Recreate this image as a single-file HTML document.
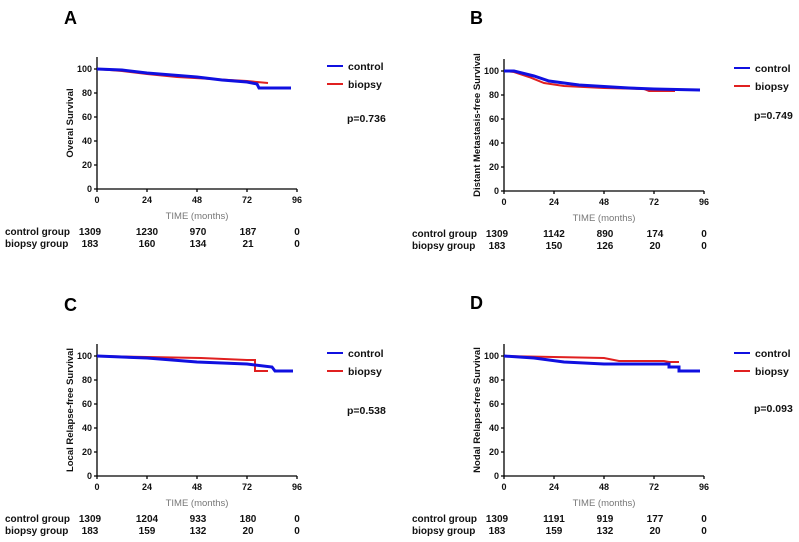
<!DOCTYPE html>
<html><head><meta charset="utf-8"><style>
body{margin:0;background:#fff}
svg{display:block;font-family:"Liberation Sans",Arial,sans-serif;font-weight:bold}
.t{font-size:9px;fill:#111}
.r{font-size:10px;fill:#111}
.lg{font-size:10.5px;fill:#111}
.ti{font-size:9.5px;fill:#777;font-weight:normal}
.yl{font-size:9.5px;fill:#111}
.L{font-size:18px;fill:#000}
.ax{stroke:#000;stroke-width:1.3;fill:none}
.c{stroke:#1010e0;stroke-width:3;fill:none}
.b{stroke:#e02020;stroke-width:2;fill:none}
</style></head><body>
<svg width="799" height="542" viewBox="0 0 799 542">
<defs>
<g id="axes">
<path class="ax" d="M0,-132V0H200M0,0V3M50,0V3M100,0V3M150,0V3M200,0V3M-3,0H0M-3,-24H0M-3,-48H0M-3,-72H0M-3,-96H0M-3,-120H0"/>
<text class="t" x="0" y="14" text-anchor="middle">0</text>
<text class="t" x="50" y="14" text-anchor="middle">24</text>
<text class="t" x="100" y="14" text-anchor="middle">48</text>
<text class="t" x="150" y="14" text-anchor="middle">72</text>
<text class="t" x="200" y="14" text-anchor="middle">96</text>
<text class="t" x="-5" y="3" text-anchor="end">0</text>
<text class="t" x="-5" y="-21" text-anchor="end">20</text>
<text class="t" x="-5" y="-45" text-anchor="end">40</text>
<text class="t" x="-5" y="-69" text-anchor="end">60</text>
<text class="t" x="-5" y="-93" text-anchor="end">80</text>
<text class="t" x="-5" y="-117" text-anchor="end">100</text>
<text class="ti" x="100" y="30" text-anchor="middle">TIME (months)</text>
<text class="r" x="-92" y="46">control group</text>
<text class="r" x="-92" y="58">biopsy group</text>
<line x1="230" y1="-123" x2="246" y2="-123" stroke="#1010e0" stroke-width="2"/>
<line x1="230" y1="-105" x2="246" y2="-105" stroke="#e02020" stroke-width="2"/>
<text class="lg" x="251" y="-119">control</text>
<text class="lg" x="251" y="-101">biopsy</text>
</g>
</defs>

<!-- A -->
<g transform="translate(97,189)">
<use href="#axes"/>
<text class="L" x="-33" y="-165">A</text>
<text class="yl" transform="translate(-24,-66) rotate(-90)" text-anchor="middle">Overal Survival</text>
<text class="lg" x="250" y="-67">p=0.736</text>
<g class="r" text-anchor="middle"><text x="-7" y="46">1309</text><text x="50" y="46">1230</text><text x="101" y="46">970</text><text x="151" y="46">187</text><text x="200" y="46">0</text>
<text x="-7" y="58">183</text><text x="50" y="58">160</text><text x="101" y="58">134</text><text x="151" y="58">21</text><text x="200" y="58">0</text></g>
<polyline class="b" points="0,-120 25,-118 50,-115 80,-112 115,-110 150,-108 160,-107 171,-106"/>
<polyline class="c" points="0,-120 25,-119 50,-116 100,-112 125,-109 150,-107 160,-105 162,-101 194,-101"/>
</g>

<!-- B -->
<g transform="translate(504,191)">
<use href="#axes"/>
<text class="L" x="-34" y="-167">B</text>
<text class="yl" transform="translate(-24,-66) rotate(-90)" text-anchor="middle">Distant Metastasis-free Survival</text>
<text class="lg" x="250" y="-72">p=0.749</text>
<g class="r" text-anchor="middle"><text x="-7" y="46">1309</text><text x="50" y="46">1142</text><text x="101" y="46">890</text><text x="151" y="46">174</text><text x="200" y="46">0</text>
<text x="-7" y="58">183</text><text x="50" y="58">150</text><text x="101" y="58">126</text><text x="151" y="58">20</text><text x="200" y="58">0</text></g>
<polyline class="b" points="0,-120 10,-119 25,-114 40,-108 60,-105 100,-103 140,-102 145,-100 171,-100"/>
<polyline class="c" points="0,-120 10,-120 30,-115 45,-110 75,-106 125,-103 150,-102 196,-101"/>
</g>

<!-- C -->
<g transform="translate(97,476)">
<use href="#axes"/>
<text class="L" x="-33" y="-165">C</text>
<text class="yl" transform="translate(-24,-66) rotate(-90)" text-anchor="middle">Local Relapse-free Survival</text>
<text class="lg" x="250" y="-62">p=0.538</text>
<g class="r" text-anchor="middle"><text x="-7" y="46">1309</text><text x="50" y="46">1204</text><text x="101" y="46">933</text><text x="151" y="46">180</text><text x="200" y="46">0</text>
<text x="-7" y="58">183</text><text x="50" y="58">159</text><text x="101" y="58">132</text><text x="151" y="58">20</text><text x="200" y="58">0</text></g>
<polyline class="b" points="0,-120 50,-119 104,-118 150,-116 158,-116 158,-105 171,-105"/>
<polyline class="c" points="0,-120 50,-118 100,-114 150,-112 175,-109 178,-105 196,-105"/>
</g>

<!-- D -->
<g transform="translate(504,476)">
<use href="#axes"/>
<text class="L" x="-34" y="-167">D</text>
<text class="yl" transform="translate(-24,-66) rotate(-90)" text-anchor="middle">Nodal Relapse-free Survival</text>
<text class="lg" x="250" y="-64">p=0.093</text>
<g class="r" text-anchor="middle"><text x="-7" y="46">1309</text><text x="50" y="46">1191</text><text x="101" y="46">919</text><text x="151" y="46">177</text><text x="200" y="46">0</text>
<text x="-7" y="58">183</text><text x="50" y="58">159</text><text x="101" y="58">132</text><text x="151" y="58">20</text><text x="200" y="58">0</text></g>
<polyline class="b" points="0,-120 50,-119 100,-118 115,-115 160,-115 165,-114 175,-114"/>
<polyline class="c" points="0,-120 30,-118 60,-114 100,-112 165,-112 165,-109 175,-109 175,-105 196,-105"/>
</g>
</svg>
</body></html>
